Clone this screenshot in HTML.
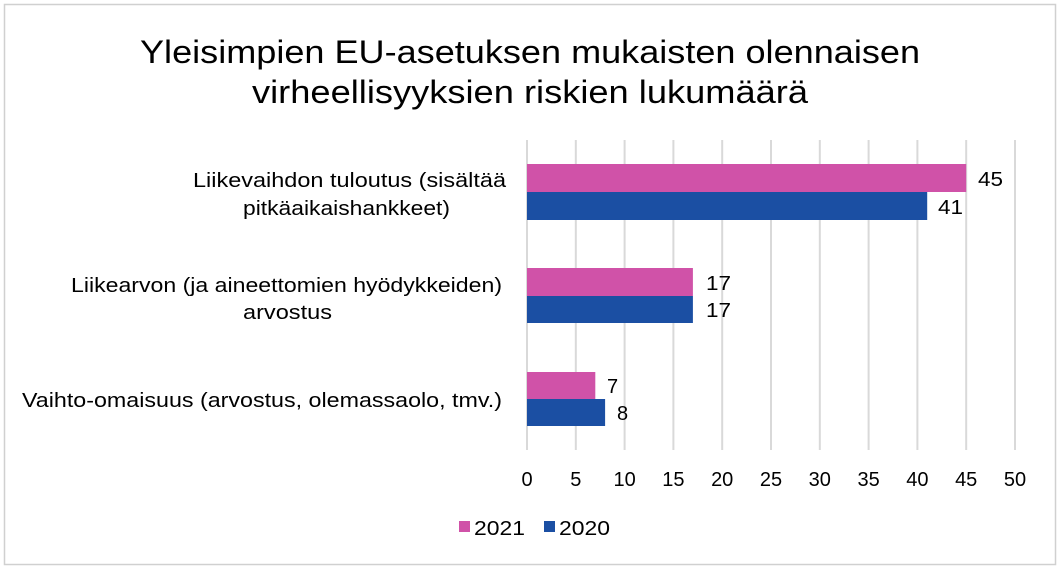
<!DOCTYPE html>
<html><head><meta charset="utf-8"><style>
html,body{margin:0;padding:0;background:#fff}
svg{display:block}
text{font-family:"Liberation Sans",Arial,sans-serif;fill:#000}
</style></head><body>
<svg width="1060" height="569" viewBox="0 0 1060 569">
<rect x="4.5" y="4.5" width="1051" height="560" fill="#fff" stroke="#d0d0d0" stroke-width="1.5"/>
<text x="140" y="63" font-size="32" textLength="780" lengthAdjust="spacingAndGlyphs">Yleisimpien EU-asetuksen mukaisten olennaisen</text>
<text x="252" y="103" font-size="32" textLength="556" lengthAdjust="spacingAndGlyphs">virheellisyyksien riskien lukumäärä</text>
<g stroke="#d9d9d9" stroke-width="2">
<line x1="527" y1="140" x2="527" y2="450"/><line x1="575.8" y1="140" x2="575.8" y2="450"/>
<line x1="624.6" y1="140" x2="624.6" y2="450"/><line x1="673.4" y1="140" x2="673.4" y2="450"/>
<line x1="722.2" y1="140" x2="722.2" y2="450"/><line x1="771" y1="140" x2="771" y2="450"/>
<line x1="819.8" y1="140" x2="819.8" y2="450"/><line x1="868.6" y1="140" x2="868.6" y2="450"/>
<line x1="917.4" y1="140" x2="917.4" y2="450"/><line x1="966.2" y1="140" x2="966.2" y2="450"/>
<line x1="1015" y1="140" x2="1015" y2="450"/>
</g>
<g>
<rect x="527" y="164" width="439.2" height="28" fill="#D052A8"/>
<rect x="527" y="192" width="400.2" height="28" fill="#1B4FA3"/>
<rect x="527" y="268" width="165.9" height="28" fill="#D052A8"/>
<rect x="527" y="296" width="165.9" height="27" fill="#1B4FA3"/>
<rect x="527" y="372" width="68.3" height="27" fill="#D052A8"/>
<rect x="527" y="399" width="78.1" height="27" fill="#1B4FA3"/>
</g>
<g font-size="20">
<text x="978" y="186" textLength="25" lengthAdjust="spacingAndGlyphs">45</text><text x="938" y="214" textLength="25" lengthAdjust="spacingAndGlyphs">41</text>
<text x="706" y="290" textLength="25" lengthAdjust="spacingAndGlyphs">17</text><text x="706" y="317" textLength="25" lengthAdjust="spacingAndGlyphs">17</text>
<text x="607" y="393">7</text><text x="617" y="420">8</text>
</g>
<g font-size="20">
<text x="193" y="187" textLength="313" lengthAdjust="spacingAndGlyphs">Liikevaihdon tuloutus (sisältää</text>
<text x="243" y="215" textLength="207" lengthAdjust="spacingAndGlyphs">pitkäaikaishankkeet)</text>
<text x="71" y="292" textLength="431" lengthAdjust="spacingAndGlyphs">Liikearvon (ja aineettomien hyödykkeiden)</text>
<text x="243" y="319" textLength="89" lengthAdjust="spacingAndGlyphs">arvostus</text>
<text x="22" y="407" textLength="480" lengthAdjust="spacingAndGlyphs">Vaihto-omaisuus (arvostus, olemassaolo, tmv.)</text>
</g>
<g font-size="20" text-anchor="middle">
<text x="527" y="486">0</text><text x="575.8" y="486">5</text><text x="624.6" y="486">10</text>
<text x="673.4" y="486">15</text><text x="722.2" y="486">20</text><text x="771" y="486">25</text>
<text x="819.8" y="486">30</text><text x="868.6" y="486">35</text><text x="917.4" y="486">40</text>
<text x="966.2" y="486">45</text><text x="1015" y="486">50</text>
</g>
<rect x="459" y="521" width="11" height="11" fill="#D052A8"/>
<text x="474" y="535" font-size="20" textLength="51" lengthAdjust="spacingAndGlyphs">2021</text>
<rect x="544" y="521" width="11" height="11" fill="#1B4FA3"/>
<text x="559" y="535" font-size="20" textLength="51" lengthAdjust="spacingAndGlyphs">2020</text>
</svg>
</body></html>
